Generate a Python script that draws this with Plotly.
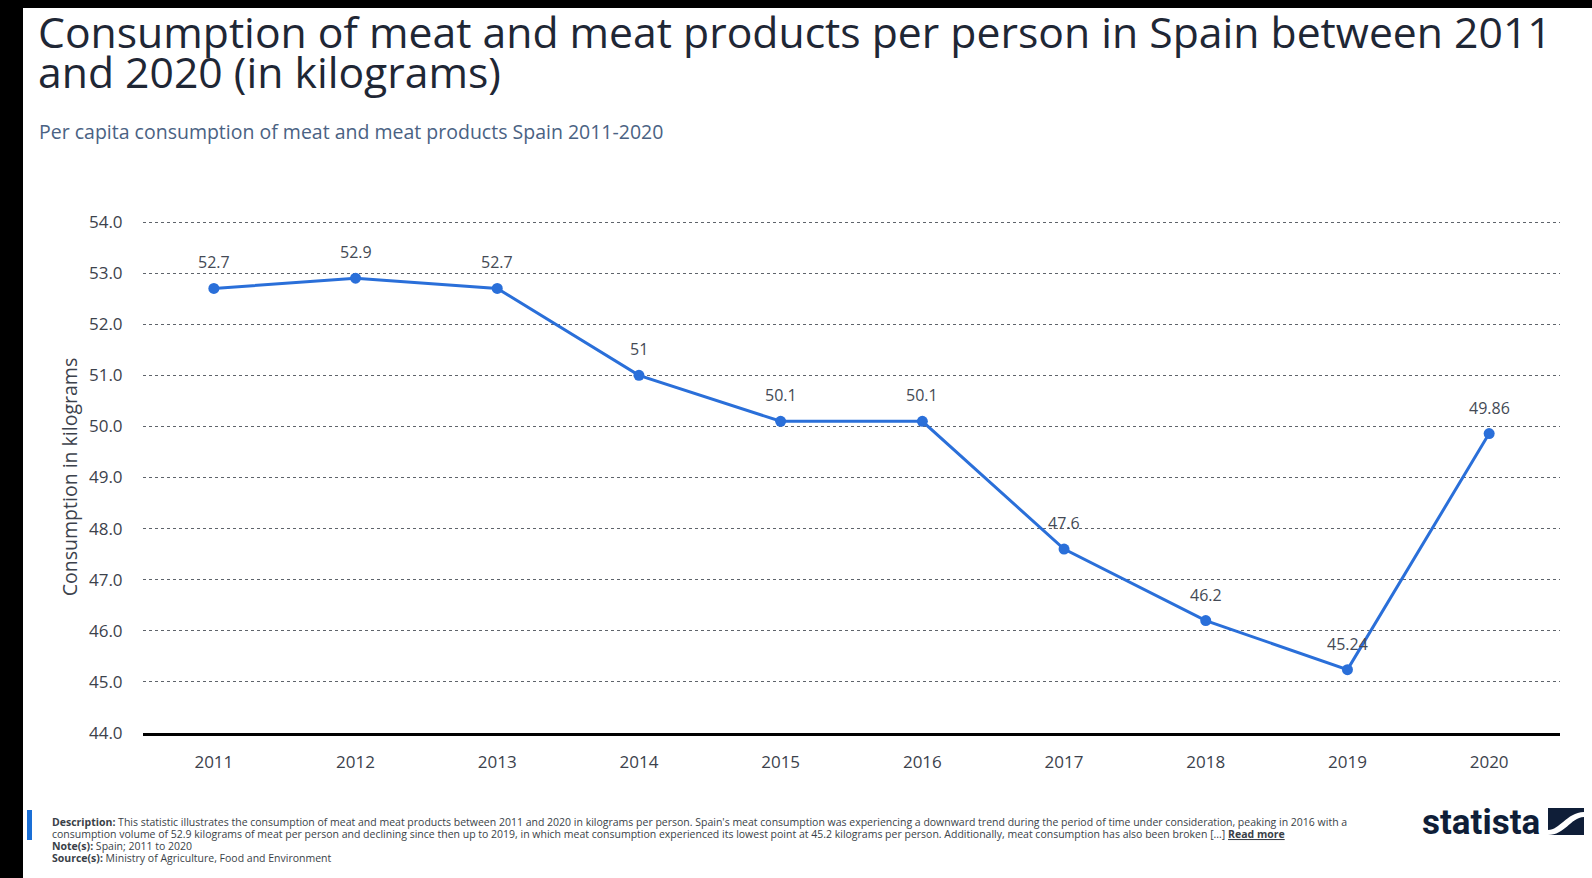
import plotly.graph_objects as go

years = ["2011", "2012", "2013", "2014", "2015", "2016", "2017", "2018", "2019", "2020"]
values = [52.7, 52.9, 52.7, 51.0, 50.1, 50.1, 47.6, 46.2, 45.24, 49.86]
labels = ["52.7", "52.9", "52.7", "51", "50.1", "50.1", "47.6", "46.2", "45.24", "49.86"]
y_ticks = [44, 45, 46, 47, 48, 49, 50, 51, 52, 53, 54]

W, H = 1592, 878
L, R, T, B = 143, 32, 221, 145
PW = W - L - R
PH = H - T - B

def px(x):
    return (x - L) / PW

def py(y):
    return (H - B - y) / PH

BLUE = "#2a6fd9"
FONT = "Open Sans"

fig = go.Figure()
fig.add_trace(go.Scatter(
    x=years, y=values, mode="lines+markers",
    line=dict(color=BLUE, width=3),
    marker=dict(color=BLUE, size=11),
    hoverinfo="x+y", showlegend=False,
))

annotations = []
for i, (v, lab) in enumerate(zip(values, labels)):
    annotations.append(dict(
        x=i, y=v, xref="x", yref="y", text=lab, showarrow=False,
        yshift=26, font=dict(family=FONT, size=16, color="#444a55"),
    ))

# Titles
annotations.append(dict(
    x=px(36), y=py(52), xref="paper", yref="paper", xanchor="left", yanchor="bottom",
    text="Consumption of meat and meat products per person in Spain between 2011",
    showarrow=False, font=dict(family=FONT, size=42.7, color="#1f2735"), yshift=-11,
))
annotations.append(dict(
    x=px(36), y=py(92), xref="paper", yref="paper", xanchor="left", yanchor="bottom",
    text="and 2020 (in kilograms)",
    showarrow=False, font=dict(family=FONT, size=42.7, color="#1f2735"), yshift=-11,
))
annotations.append(dict(
    x=px(37), y=py(131), xref="paper", yref="paper", xanchor="left", yanchor="middle",
    text="Per capita consumption of meat and meat products Spain 2011-2020",
    showarrow=False, font=dict(family=FONT, size=19.5, color="#4a6283"),
))

# Footer
foot_lines = [
    "<b>Description:</b> This statistic illustrates the consumption of meat and meat products between 2011 and 2020 in kilograms per person. Spain's meat consumption was experiencing a downward trend during the period of time under consideration, peaking in 2016 with a",
    "consumption volume of 52.9 kilograms of meat per person and declining since then up to 2019, in which meat consumption experienced its lowest point at 45.2 kilograms per person. Additionally, meat consumption has also been broken [...] <b><u>Read more</u></b>",
    "<b>Note(s):</b> Spain; 2011 to 2020",
    "<b>Source(s):</b> Ministry of Agriculture, Food and Environment",
]
foot_y = [822, 834, 846, 858]
for t, yy in zip(foot_lines, foot_y):
    annotations.append(dict(
        x=px(50), y=py(yy), xref="paper", yref="paper", xanchor="left", yanchor="middle",
        text=t, showarrow=False, font=dict(family=FONT, size=10.5, color="#3a3f48"),
    ))

annotations.append(dict(
    x=px(1542), y=py(822), xref="paper", yref="paper", xanchor="right", yanchor="middle",
    text="<b>statista</b>", showarrow=False,
    font=dict(family="Roboto", size=35, color="#0f1e38"),
))

shapes = [
    # black frame edges
    dict(type="rect", xref="paper", yref="paper", x0=px(0), x1=px(23), y0=py(0), y1=py(H),
         fillcolor="black", line=dict(width=0), layer="above"),
    dict(type="rect", xref="paper", yref="paper", x0=px(0), x1=px(W), y0=py(0), y1=py(8),
         fillcolor="black", line=dict(width=0), layer="above"),
    # blue footer bar
    dict(type="rect", xref="paper", yref="paper", x0=px(27), x1=px(32), y0=py(810), y1=py(840),
         fillcolor="#1a6fd6", line=dict(width=0), layer="above"),
    # statista icon
    dict(type="rect", xref="paper", yref="paper", x0=px(1548), x1=px(1584), y0=py(808), y1=py(835),
         fillcolor="#0f1e38", line=dict(width=0), layer="above"),
    dict(type="path", xref="paper", yref="paper",
         path=f"M {px(1548)} {py(830)} C {px(1560)} {py(830)} {px(1566)} {py(813)} {px(1584)} {py(812)} "
              f"L {px(1584)} {py(817)} C {px(1570)} {py(818)} {px(1565)} {py(835)} {px(1548)} {py(835)} Z",
         fillcolor="white", line=dict(width=0), layer="above"),
]

fig.update_layout(
    width=W, height=H,
    margin=dict(l=L, r=R, t=T, b=B, pad=0),
    paper_bgcolor="white", plot_bgcolor="white",
    font=dict(family=FONT, color="#3c424c"),
    annotations=annotations, shapes=shapes,
    xaxis=dict(
        type="category", range=[-0.5, 9.5], showgrid=False,
        showline=True, linecolor="black", linewidth=3,
        ticks="outside", ticklen=12, tickcolor="rgba(0,0,0,0)",
        tickfont=dict(family=FONT, size=17, color="#3c424c"),
        fixedrange=True,
    ),
    yaxis=dict(
        range=[44, 54.02], tickvals=y_ticks, tickformat=".1f",
        showgrid=True, gridcolor="#5f646b", griddash="dot", gridwidth=1,
        zeroline=False, showline=False,
        ticks="outside", ticklen=16, tickcolor="rgba(0,0,0,0)",
        tickfont=dict(family=FONT, size=17, color="#3c424c"),
        title=dict(text="Consumption in kilograms", standoff=6,
                   font=dict(family=FONT, size=19.5, color="#3c424c")),
        fixedrange=True,
    ),
)

fig.write_html("out.html")
